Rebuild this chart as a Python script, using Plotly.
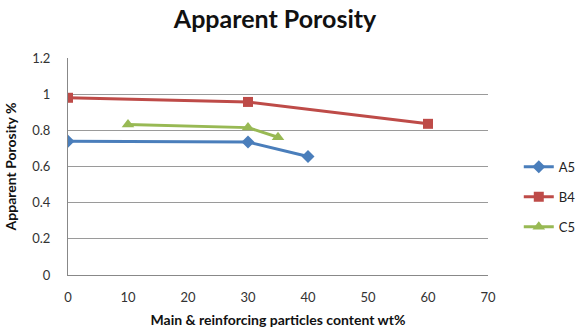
import plotly.graph_objects as go

# Apparent porosity vs. particle content for three composite series
a5_x = [0, 30, 40]
a5_y = [0.74, 0.735, 0.655]
b4_x = [0, 30, 60]
b4_y = [0.98, 0.957, 0.836]
c5_x = [10, 30, 35]
c5_y = [0.832, 0.815, 0.762]

series = [
    ("A5", a5_x, a5_y, "#4A7EBB", "diamond", 10),
    ("B4", b4_x, b4_y, "#BE4B48", "square", 10),
    ("C5", c5_x, c5_y, "#98B954", "triangle-up", 11),
]

fig = go.Figure()
for name, xs, ys, color, symbol, size in series:
    fig.add_trace(go.Scatter(
        x=xs, y=ys, name=name, legendgroup=name, mode="lines+markers",
        line=dict(color=color, width=3),
        marker=dict(symbol=symbol, size=size, color=color),
    ))

font_family = "Lato, 'Liberation Sans', sans-serif"

fig.update_layout(
    width=579, height=336,
    margin=dict(l=68, r=91, t=58, b=61, autoexpand=False),
    paper_bgcolor="white", plot_bgcolor="white",
    font=dict(family=font_family, size=13, color="#333333"),
    title=dict(
        text="<b>Apparent Porosity</b>",
        x=0.475, xanchor="center", y=0.943, yanchor="middle",
        font=dict(size=25, color="#111111", family=font_family),
    ),
    xaxis=dict(
        range=[0, 70], dtick=10, tick0=0,
        showgrid=False, zeroline=False,
        showline=True, linecolor="#888888", linewidth=1,
        ticks="", ticklabelstandoff=10,
        tickfont=dict(size=13, color="#333333"),
        title=dict(text="<b>Main &amp; reinforcing particles content wt%</b>",
                   font=dict(size=14, color="#111111"), standoff=11),
    ),
    yaxis=dict(
        range=[0, 1.2], dtick=0.2, tick0=0,
        showgrid=True, gridcolor="#9a9a9a", gridwidth=1,
        zeroline=False,
        showline=True, linecolor="#888888", linewidth=1,
        ticks="", ticklabelstandoff=14,
        tickfont=dict(size=13, color="#333333"),
        title=dict(text="<b>Apparent Porosity %</b>",
                   font=dict(size=14, color="#111111"), standoff=12),
    ),
    legend=dict(
        xref="container", yref="container",
        x=0.896, xanchor="left", y=0.414, yanchor="middle",
        font=dict(size=13, color="#222222"),
        tracegroupgap=10, itemwidth=30,
        bgcolor="rgba(0,0,0,0)",
    ),
    showlegend=True,
)

fig.write_html("out.html")
